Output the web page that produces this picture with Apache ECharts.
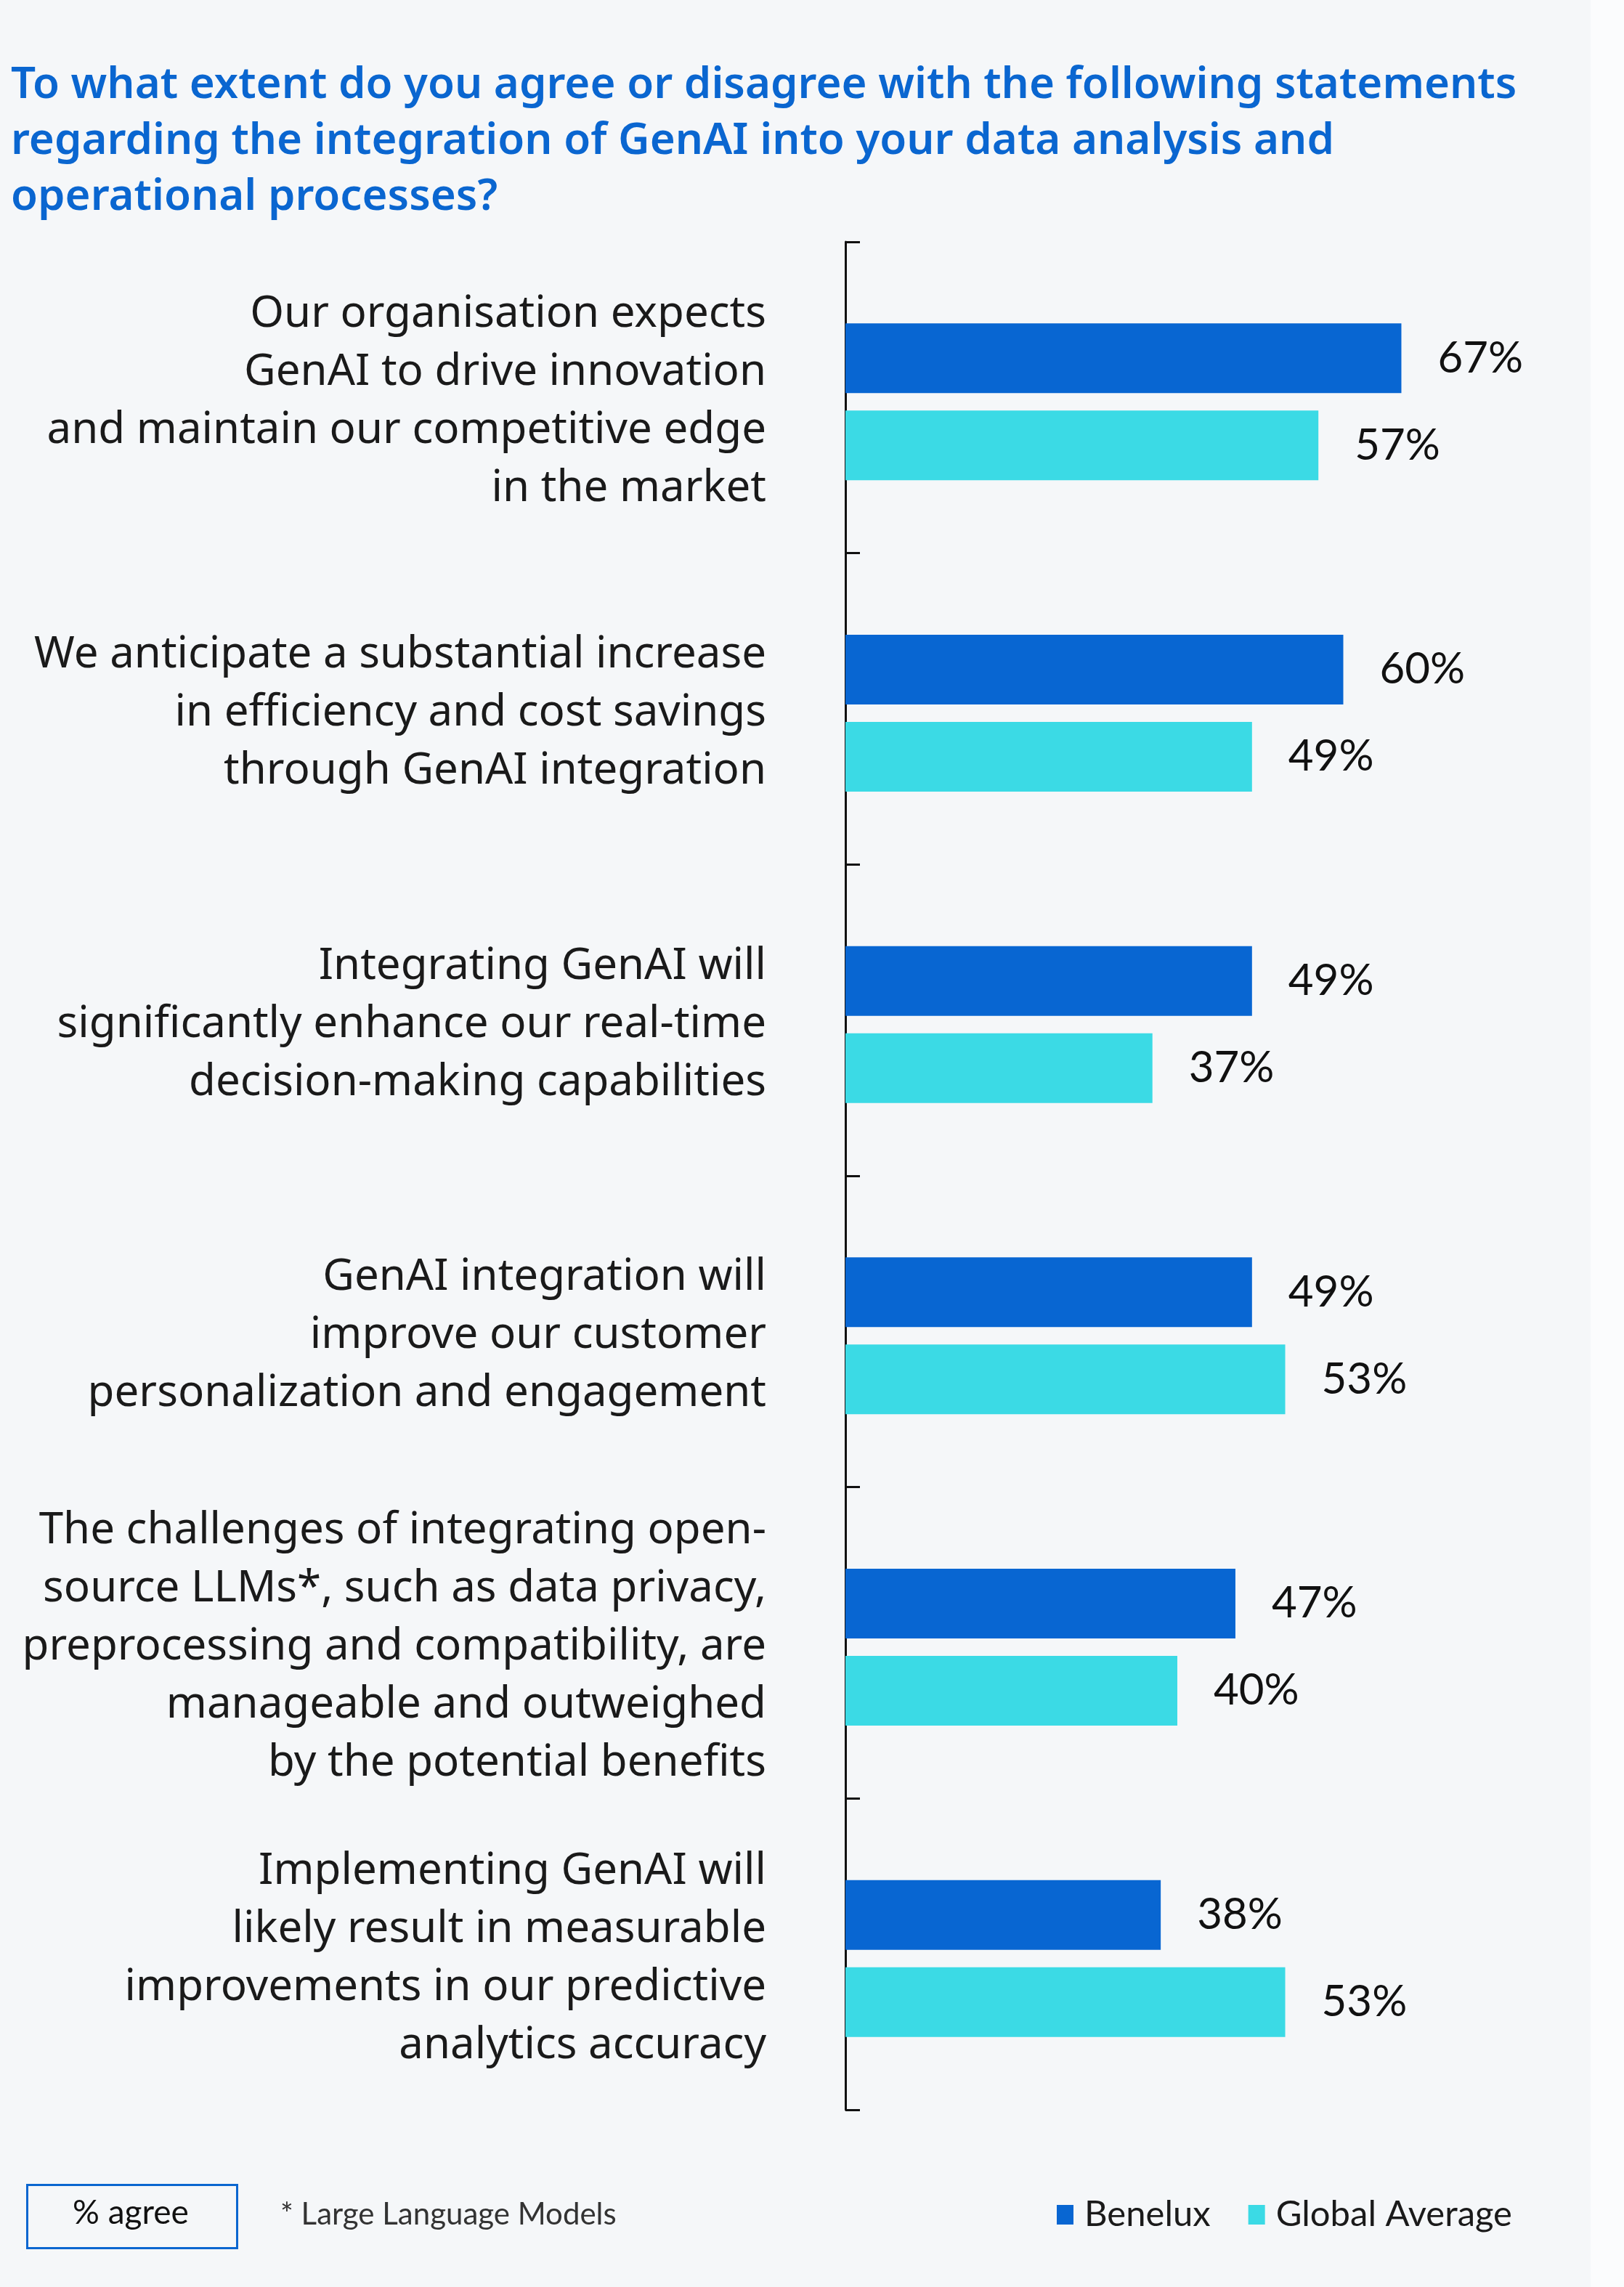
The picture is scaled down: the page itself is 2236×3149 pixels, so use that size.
<!DOCTYPE html>
<html lang="en">
<head>
    <meta charset="UTF-8">
    <title>GenAI integration - % agree</title>
    <script src="https://cdn.jsdelivr.net/npm/echarts@6/dist/echarts.min.js"></script>
    <style>
        html, body { margin: 0; padding: 0; background: #f5f7f9; }
        #chart { width: 2236px; height: 3149px; }
    </style>
</head>
<body>
<div id="chart"></div>
<script type="text/javascript">
    // 问卷题目
    var titleLines = [
        'To what extent do you agree or disagree with the following statements',
        'regarding the integration of GenAI into your data analysis and',
        'operational processes?'
    ];

    // 各项陈述（从上到下）
    var categories = [
        'Our organisation expects\nGenAI to drive innovation\nand maintain our competitive edge\nin the market',
        'We anticipate a substantial increase\nin efficiency and cost savings\nthrough GenAI integration',
        'Integrating GenAI will\nsignificantly enhance our real-time\ndecision-making capabilities',
        'GenAI integration will\nimprove our customer\npersonalization and engagement',
        'The challenges of integrating open-\nsource LLMs*, such as data privacy,\npreprocessing and compatibility, are\nmanageable and outweighed\nby the potential benefits',
        'Implementing GenAI will\nlikely result in measurable\nimprovements in our predictive\nanalytics accuracy'
    ];

    var seriesNames = ['Benelux', 'Global Average'];
    var beneluxValues = [67, 60, 49, 49, 47, 38];
    var globalValues = [57, 49, 37, 53, 40, 53];

    var unitLabel = '% agree';
    var footnote = '* Large Language Models';

    var blue = '#0866d2';
    var cyan = '#3bdae5';

    var chart = echarts.init(document.getElementById('chart'));

    var labelOpt = {
        show: true,
        position: 'right',
        distance: 50,
        formatter: '{c}%',
        color: '#111111',
        fontFamily: 'Lato',
        fontSize: 60
    };

    var option = {
        backgroundColor: '#f5f7f9',
        animation: false,
        title: {
            text: titleLines.join('\n'),
            left: 10,
            top: 74,
            textStyle: {
                color: '#0a66d0',
                fontFamily: 'Noto Sans',
                fontWeight: 600,
                fontSize: 60,
                lineHeight: 77
            }
        },
        legend: {
            data: seriesNames,
            left: 1450,
            top: 3020,
            icon: 'rect',
            itemWidth: 23,
            itemHeight: 27,
            itemGap: 52,
            textStyle: {
                color: '#1a1a1a',
                fontFamily: 'Lato',
                fontSize: 49,
                padding: [0, 0, 0, 10]
            }
        },
        // 第一个 grid 放柱子和文字，第二个只画轴线和刻度
        grid: [
            { left: 1164, top: 339, bottom: 238, width: 914 },
            { left: 1164, top: 333, bottom: 244, width: 914 }
        ],
        xAxis: [
            { type: 'value', gridIndex: 0, min: 0, max: 80, show: false },
            { type: 'value', gridIndex: 1, min: 0, max: 80, show: false }
        ],
        yAxis: [
            {
                type: 'category',
                gridIndex: 0,
                data: categories,
                inverse: true,
                axisLine: { show: false },
                axisTick: { show: false },
                axisLabel: {
                    margin: 109,
                    align: 'right',
                    color: '#1a1a1a',
                    fontFamily: 'Noto Sans',
                    fontSize: 60,
                    lineHeight: 80
                }
            },
            {
                type: 'category',
                gridIndex: 1,
                data: categories,
                inverse: true,
                axisLine: { show: true, lineStyle: { color: '#111111', width: 3 } },
                axisTick: { show: true, inside: true, length: 20, lineStyle: { color: '#111111', width: 3 } },
                axisLabel: { show: false }
            }
        ],
        series: [
            {
                name: seriesNames[0],
                type: 'bar',
                xAxisIndex: 0,
                yAxisIndex: 0,
                data: beneluxValues,
                barWidth: 96,
                barGap: '25%',
                itemStyle: { color: blue },
                label: labelOpt
            },
            {
                name: seriesNames[1],
                type: 'bar',
                xAxisIndex: 0,
                yAxisIndex: 0,
                data: globalValues,
                barWidth: 96,
                itemStyle: { color: cyan },
                label: labelOpt
            }
        ],
        graphic: [
            {
                type: 'rect',
                left: 2190,
                top: 0,
                shape: { width: 46, height: 3149 },
                style: { fill: '#fbfcfd' },
                silent: true
            },
            {
                type: 'rect',
                left: 36,
                top: 3007,
                shape: { width: 289, height: 87 },
                style: { fill: 'transparent', stroke: '#0a66d0', lineWidth: 3 }
            },
            {
                type: 'text',
                left: 100,
                top: 3024,
                style: {
                    text: unitLabel,
                    fill: '#111111',
                    font: '46px Lato'
                }
            },
            {
                type: 'text',
                left: 386,
                top: 3028,
                style: {
                    text: footnote,
                    fill: '#333333',
                    font: '42px Lato'
                }
            }
        ]
    };

    chart.setOption(option);
</script>
</body>
</html>
